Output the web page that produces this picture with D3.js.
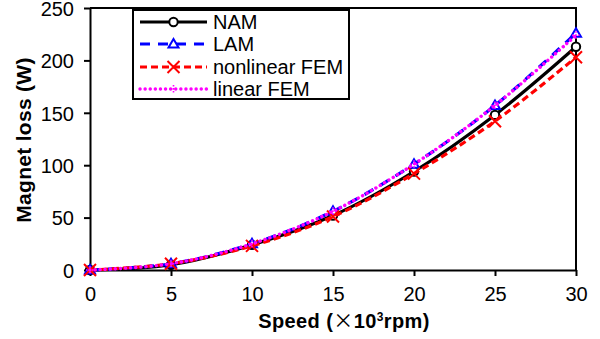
<!DOCTYPE html>
<html><head><meta charset="utf-8">
<script src="https://cdn.jsdelivr.net/npm/d3@7"></script>
<style>body{margin:0;background:#fff}svg{display:block}text{font-family:Arial,"Liberation Sans",sans-serif;fill:#000}</style>
</head><body><svg id="c" width="600" height="339"></svg>
<script>
const speeds = [0, 5, 10, 15, 20, 25, 30];
const namLoss = [0, 5, 24, 52, 94, 148, 213];
const lamLoss = [0, 6, 25, 56, 101, 157, 226];
const nonlinearFemLoss = [0, 6, 23, 51, 92, 142, 203];
const linearFemLoss = [0, 6, 25, 56, 101, 157, 224];
const xTicks = [0, 5, 10, 15, 20, 25, 30];
const yTicks = [0, 50, 100, 150, 200, 250];
const seriesNames = ["NAM", "LAM", "nonlinear FEM", "linear FEM"];

const svg = d3.select("#c");
const L = 90, R = 576, T = 8, B = 270;
const x = d3.scaleLinear().domain([0, 30]).range([L, R]);
const y = d3.scaleLinear().domain([0, 250]).range([B, T]);

const styles = [
  {color:"#000000", dash:null, w:3.2, marker:"circle"},
  {color:"#0000ff", dash:"10,8", w:3.2, marker:"triangle"},
  {color:"#ff0000", dash:"7,4", w:3.2, marker:"cross"},
  {color:"#ff00ff", dash:"0.1,5", w:3.4, marker:"plus", cap:"round"}
];
const data = [namLoss, lamLoss, nonlinearFemLoss, linearFemLoss];

// frame
svg.append("path").attr("d", `M${L},${T}H${R}V${B}`).attr("fill","none").attr("stroke","#000").attr("stroke-width",2);

const xa = svg.append("g").attr("transform",`translate(0,${B})`)
  .call(d3.axisBottom(x).tickValues(xTicks).tickSize(6).tickPadding(11).tickSizeOuter(0));
const ya = svg.append("g").attr("transform",`translate(${L},0)`)
  .call(d3.axisLeft(y).tickValues(yTicks).tickSize(6).tickPadding(10).tickSizeOuter(0));
[xa, ya].forEach(a => {
  a.selectAll("path,line").attr("stroke","#000").attr("stroke-width",2);
  a.selectAll("text").style("font-size","20px").attr("fill","#000");
});
ya.selectAll("text").attr("dy","0.36em");

function drawMarker(g, m, cx, cy, color) {
  if (m === "circle") {
    g.append("circle").attr("cx",cx).attr("cy",cy).attr("r",4.2).attr("fill","#fff").attr("stroke",color).attr("stroke-width",2);
  } else if (m === "triangle") {
    const s = 5;
    g.append("path").attr("d",`M${cx},${cy-s}L${cx+s},${cy+s*0.7}L${cx-s},${cy+s*0.7}Z`).attr("fill","#fff").attr("stroke",color).attr("stroke-width",2);
  } else if (m === "cross") {
    const s = 6;
    g.append("path").attr("d",`M${cx-s},${cy-s}L${cx+s},${cy+s}M${cx-s},${cy+s}L${cx+s},${cy-s}`).attr("stroke",color).attr("stroke-width",2);
  } else {
    const s = 4;
    g.append("path").attr("d",`M${cx},${cy-s}V${cy+s}M${cx-s},${cy}H${cx+s}`).attr("stroke",color).attr("stroke-width",1.6).attr("stroke-dasharray","1.5,1.5");
  }
}

const line = d3.line().x((d,i)=>x(speeds[i])).y(d=>y(d)).curve(d3.curveCatmullRom.alpha(0.5));
data.forEach((vals, k) => {
  const st = styles[k];
  const g = svg.append("g");
  g.append("path").datum(vals).attr("d", line).attr("fill","none")
    .attr("stroke", st.color).attr("stroke-width", st.w)
    .attr("stroke-dasharray", st.dash).attr("stroke-linecap", st.cap || "butt");
  vals.forEach((v,i) => drawMarker(g, st.marker, x(speeds[i]), y(v), st.color));
});

// legend
const lg = svg.append("g");
lg.append("rect").attr("x",133).attr("y",10).attr("width",216).attr("height",89).attr("fill","#fff").attr("stroke","#000").attr("stroke-width",2);
const ly = [22, 44, 67, 89];
seriesNames.forEach((n,k) => {
  const st = styles[k];
  lg.append("line").attr("x1",140).attr("x2",207).attr("y1",ly[k]).attr("y2",ly[k])
    .attr("stroke",st.color).attr("stroke-width",st.w).attr("stroke-dasharray",st.dash).attr("stroke-linecap",st.cap||"butt");
  drawMarker(lg, st.marker, 173.5, ly[k], st.color);
  lg.append("text").attr("x",213).attr("y",ly[k]).attr("dy","0.36em").style("font-size","20px").text(n);
});

// axis titles
svg.append("text").attr("transform","translate(31,140) rotate(-90)").attr("text-anchor","middle")
  .style("font-size","21px").style("font-weight","bold").style("letter-spacing","0.3px").text("Magnet loss (W)");
const xt = svg.append("text").attr("x",344).attr("y",328).attr("text-anchor","middle").style("font-size","20px").style("font-weight","bold").style("letter-spacing","0.4px");
xt.append("tspan").text("Speed (");
xt.append("tspan").style("font-weight","normal").style("font-family","'Noto Sans CJK SC'").text("×");
xt.append("tspan").text("10");
xt.append("tspan").style("font-size","12px").attr("dy","-7").text("3");
xt.append("tspan").attr("dy","7").text("rpm)");
</script></body></html>
